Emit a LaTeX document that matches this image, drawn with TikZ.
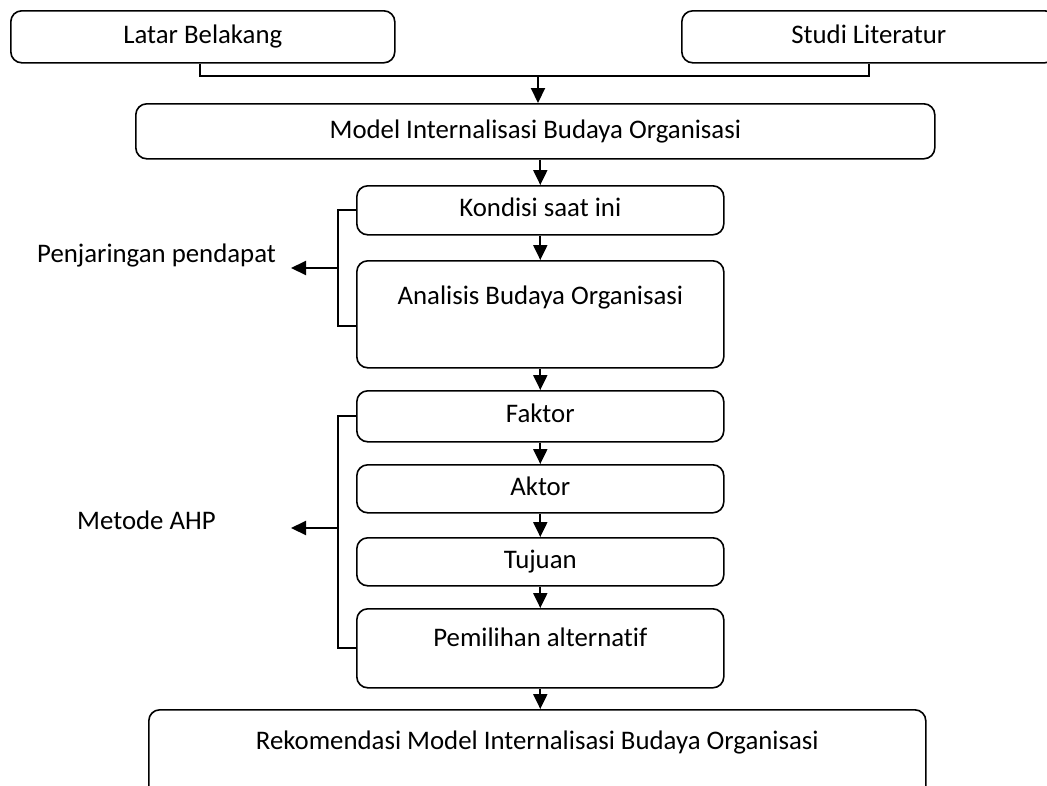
\documentclass[tikz,border=0pt]{standalone}
\usepackage{fontspec}
\setmainfont{Carlito}[Ligatures=NoCommon]
\usetikzlibrary{arrows.meta}
\begin{document}
\begin{tikzpicture}[x=1pt,y=-1pt,
  box/.style={draw, line width=1.6pt, rounded corners=11pt, inner sep=0pt, anchor=north west,
    font=\fontsize{26.8}{30}\selectfont},
  lbl/.style={inner sep=0pt, font=\fontsize{26.8}{30}\selectfont},
  conn/.style={line width=2.1pt},
  arr/.style={line width=2.1pt, -{Triangle[width=14pt,length=15pt]}}]
\useasboundingbox (0,0) rectangle (1047,785);
\clip (0,0) rectangle (1047,785);
% boxes
\node[box, minimum width=384pt, text height=33pt, text depth=19pt] (latar) at (10,10) {Latar Belakang};
\node[box, minimum width=374pt, text height=33pt, text depth=19pt] (studi) at (681,10) {Studi Literatur};
\node[box, minimum width=799pt, text height=35pt, text depth=20pt] (model) at (135,103) {Model Internalisasi Budaya Organisasi};
\node[box, minimum width=367pt, text height=31pt, text depth=18pt] (kondisi) at (356,185) {Kondisi saat ini};
\node[box, minimum width=367pt, text height=44pt, text depth=63pt] (analisis) at (356,260) {Analisis Budaya Organisasi};
\node[box, minimum width=367pt, text height=32pt, text depth=19pt] (faktor) at (356,390) {Faktor};
\node[box, minimum width=367pt, text height=31pt, text depth=17pt] (aktor) at (356,464) {Aktor};
\node[box, minimum width=367pt, text height=31pt, text depth=17pt] (tujuan) at (356,537) {Tujuan};
\node[box, minimum width=367pt, text height=38pt, text depth=41pt] (pemilihan) at (356,608) {Pemilihan alternatif};
\node[box, minimum width=777pt, text height=40pt, text depth=60pt] (rekom) at (148,709) {Rekomendasi Model Internalisasi Budaya Organisasi};
% side labels
\node[lbl, anchor=base west] (pen) at (37,262) {Penjaringan pendapat};
\node[lbl, anchor=base west] (ahp) at (77,529) {Metode AHP};
% top junction
\coordinate (j) at (538,76);
\draw[conn] ([xshift=-3pt]latar.south) |- (j) -| (studi.south);
\draw[arr] (j) -- (j |- model.north);
% vertical chain
\draw[arr] (model.south -| kondisi.north) -- (kondisi.north);
\draw[arr] (kondisi.south) -- (analisis.north);
\draw[arr] (analisis.south) -- (faktor.north);
\draw[arr] (faktor.south) -- (aktor.north);
\draw[arr] (aktor.south) -- (tujuan.north);
\draw[arr] (tujuan.south) -- (pemilihan.north);
\draw[arr] (pemilihan.south) -- (pemilihan.south |- rekom.north);
% brackets
\coordinate (b1) at (338,268);
\coordinate (t1) at (291,268);
\draw[conn] (kondisi.west) -- (kondisi.west -| b1) -- ([yshift=-12pt]analisis.west -| b1) -- ([yshift=-12pt]analisis.west);
\draw[arr] (b1) -- (t1);
\coordinate (b2) at (338,528);
\coordinate (t2) at (291,528);
\draw[conn] (faktor.west) -- (faktor.west -| b2) -- (pemilihan.west -| b2) -- (pemilihan.west);
\draw[arr] (b2) -- (t2);
\end{tikzpicture}
\end{document}
